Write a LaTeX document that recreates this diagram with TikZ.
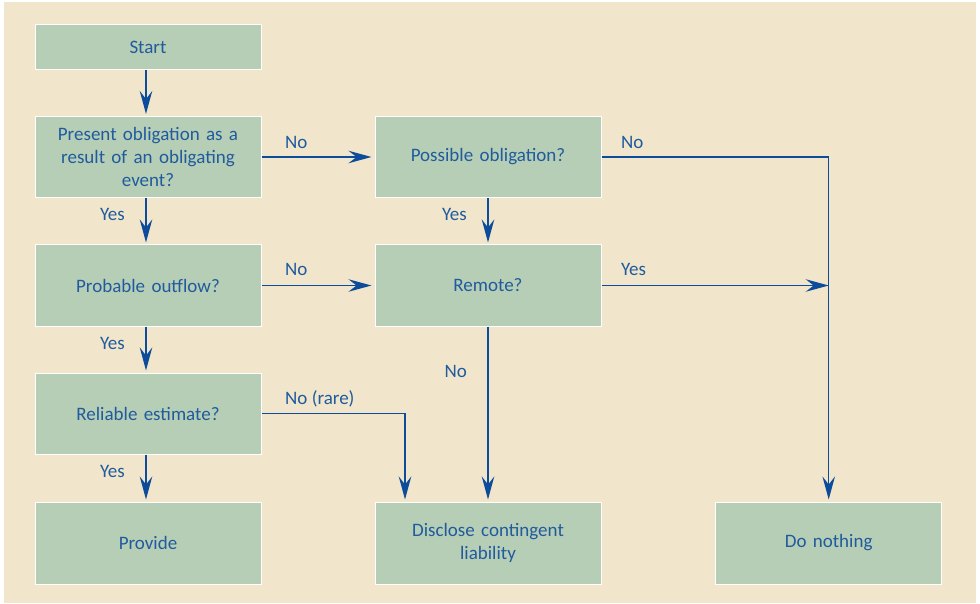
\documentclass[tikz,border=0pt]{standalone}
\usepackage{fontspec}
\setmainfont{Carlito}
\usetikzlibrary{arrows.meta}
\definecolor{paper}{HTML}{F1E6CC}
\definecolor{boxfill}{HTML}{B7CEB6}
\definecolor{inkblue}{HTML}{1F5B9D}
\definecolor{arrowblue}{HTML}{0D4C9A}
\tikzset{
  flowbox/.style={rectangle, fill=boxfill, draw=white, line width=1pt,
    minimum width=226pt, minimum height=81pt, inner sep=0pt,
    text=inkblue, align=center, text width=200pt,
    font=\fontsize{19}{23}\selectfont},
  lbl/.style={text=inkblue, inner sep=0pt, font=\fontsize{19}{23}\selectfont},
  flow/.style={draw=arrowblue, line width=1.5pt,
    -{Stealth[length=23pt, width=12.5pt, inset=8pt]}},
  flowjoin/.style={draw=arrowblue, line width=1.5pt},
}
\begin{document}
\begin{tikzpicture}[x=1pt, y=-1pt]
  % page and background panel
  \useasboundingbox (0,0) rectangle (980,604);
  \fill[white] (0,0) rectangle (980,604);
  \fill[paper] (4,2) rectangle (976,603);

  % left column
  \node[flowbox, minimum height=45pt] (start) at (148,47.5) {Start};
  \node[flowbox] (present) at (148,157) {Present obligation as a\\result of an obligating\\event?};
  \node[flowbox] (probable) at (148,285.5) {Probable outflow?};
  \node[flowbox] (reliable) at (148,413.5) {Reliable estimate?};
  \node[flowbox, minimum height=82pt] (provide) at (148,543) {Provide};

  % middle column
  \node[flowbox] (possible) at (488,157) {Possible obligation?};
  \node[flowbox] (remote) at (488,285.5) {Remote?};
  \node[flowbox, minimum height=82pt] (disclose) at (488,543) {Disclose contingent\\liability};

  % right column
  \node[flowbox, minimum height=82pt] (nothing) at (828.7,543) {Do nothing};

  % junction points
  \coordinate (joinR) at (nothing.north |- remote.east);
  \coordinate (rareDrop) at ([xshift=-83pt]disclose.north);

  % connectors down the left column
  \draw[flow, shorten >=2pt] ([xshift=-2pt]start.south) -- ([xshift=-2pt]present.north);
  \draw[flow, shorten >=2pt] ([xshift=-2pt]present.south) -- ([xshift=-2pt]probable.north);
  \draw[flow, shorten >=2pt] ([xshift=-2pt]probable.south) -- ([xshift=-2pt]reliable.north);
  \draw[flow, shorten >=2pt] ([xshift=-2pt]reliable.south) -- ([xshift=-2pt]provide.north);

  % connectors to the middle column
  \draw[flow, shorten >=3pt] (present.east) -- (possible.west);
  \draw[flow, shorten >=3pt] (probable.east) -- (remote.west);
  \draw[flow, shorten >=2pt] (possible.south) -- (remote.north);
  \draw[flow, shorten >=2pt] (remote.south) -- (disclose.north);
  \draw[flow, shorten >=2pt] (reliable.east) -| (rareDrop);

  % connectors to the right column
  \draw[flow, shorten >=2pt] (possible.east) -| (nothing.north);
  \draw[flow] (remote.east) -- (joinR);

  % branch labels
  \node[lbl, anchor=base west] (noA) at (285,148.3) {No};
  \node[lbl, anchor=base west] (noB) at (621,148.3) {No};
  \node[lbl, anchor=base west] (noC) at (285,275.5) {No};
  \node[lbl, anchor=base west] (yesD) at (621,275.5) {Yes};
  \node[lbl, anchor=base west] (noRare) at (285,404.3) {No (rare)};
  \node[lbl, anchor=base east] (yesA) at (125,220.7) {Yes};
  \node[lbl, anchor=base east] (yesB) at (125,349) {Yes};
  \node[lbl, anchor=base east] (yesC) at (125,477) {Yes};
  \node[lbl, anchor=base east] (yesE) at (467,220.7) {Yes};
  \node[lbl, anchor=base east] (noE) at (467,377.7) {No};
\end{tikzpicture}
\end{document}
